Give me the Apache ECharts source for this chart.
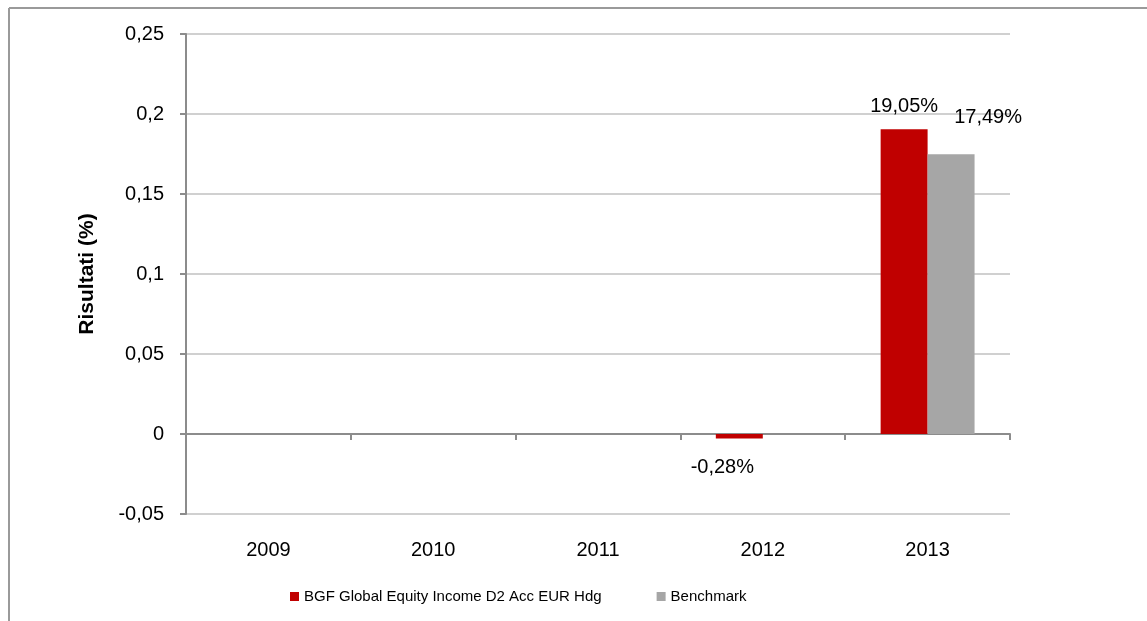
<!DOCTYPE html>
<html>
<head>
<meta charset="utf-8">
<script src="https://cdn.jsdelivr.net/npm/echarts@6/dist/echarts.min.js"></script>
<style>
html,body{margin:0;padding:0;background:#fff;}
#chart{width:1147px;height:621px;}
</style>
</head>
<body>
<div id="chart"></div>
<script>
const categories = ['2009', '2010', '2011', '2012', '2013'];
const fundName = 'BGF Global Equity Income D2 Acc EUR Hdg';
const benchName = 'Benchmark';
const fundValues = [null, null, null, -0.0028, 0.1905];
const benchValues = [null, null, null, null, 0.1749];
const yMin = -0.05, yMax = 0.25, yStep = 0.05;

const FONT = '"Liberation Sans", Arial, sans-serif';
const pct = v => (v * 100).toFixed(2).replace('.', ',') + '%';
const tick = v => String(parseFloat(v.toFixed(2))).replace('.', ',');

const fundData = fundValues.map((v, i) => {
  if (v === null) return null;
  let label;
  if (v < 0) label = { position: 'inside', offset: [-17, 31] };
  else label = { position: 'top', offset: [0, -8] };
  return { value: v, label: label };
});
const benchData = benchValues.map((v, i) => {
  if (v === null) return null;
  return { value: v, label: { position: 'top', offset: [37, -22] } };
});

const chart = echarts.init(document.getElementById('chart'), null, { renderer: 'canvas' });
chart.setOption({
  animation: false,
  backgroundColor: '#ffffff',
  textStyle: { fontFamily: FONT },
  graphic: [
    { type: 'line', shape: { x1: 9, y1: 8, x2: 1147, y2: 8 }, style: { stroke: '#9a9a9a', lineWidth: 2 } },
    { type: 'line', shape: { x1: 9, y1: 8, x2: 9, y2: 621 }, style: { stroke: '#9a9a9a', lineWidth: 2 } }
  ],
  grid: { left: 186, right: 137, top: 34, bottom: 107, containLabel: false },
  legend: {
    left: 285, top: 584,
    itemWidth: 9, itemHeight: 9, itemGap: 55,
    icon: 'rect',
    textStyle: { fontFamily: FONT, fontSize: 15, color: '#000' },
    data: [fundName, benchName]
  },
  xAxis: {
    type: 'category',
    data: categories,
    axisLine: { onZero: true, lineStyle: { color: '#8c8c8c', width: 2 } },
    axisTick: { show: true, length: 6, inside: false, lineStyle: { color: '#8c8c8c', width: 2 } },
    axisLabel: { margin: 26, fontFamily: FONT, fontSize: 20, color: '#000' },
    splitLine: { show: false }
  },
  yAxis: {
    type: 'value',
    min: yMin, max: yMax, interval: yStep,
    name: 'Risultati (%)',
    nameLocation: 'middle',
    nameGap: 88,
    nameTextStyle: { fontFamily: FONT, fontSize: 21, fontWeight: 'bold', color: '#000' },
    axisLine: { show: true, lineStyle: { color: '#8c8c8c', width: 2 } },
    axisTick: { show: true, length: 6, lineStyle: { color: '#8c8c8c', width: 2 } },
    axisLabel: { margin: 22, fontFamily: FONT, fontSize: 20, color: '#000', formatter: tick },
    splitLine: { show: true, lineStyle: { color: '#d0d0d0', width: 2 } }
  },
  series: [
    {
      name: fundName, type: 'bar', data: fundData,
      itemStyle: { color: '#C00000' },
      barGap: '0%', barCategoryGap: '43%',
      label: { show: true, fontFamily: FONT, fontSize: 20, color: '#000', formatter: p => pct(p.value) }
    },
    {
      name: benchName, type: 'bar', data: benchData,
      itemStyle: { color: '#A6A6A6' },
      barGap: '0%', barCategoryGap: '43%',
      label: { show: true, fontFamily: FONT, fontSize: 20, color: '#000', formatter: p => pct(p.value) }
    }
  ]
});
</script>
</body>
</html>
